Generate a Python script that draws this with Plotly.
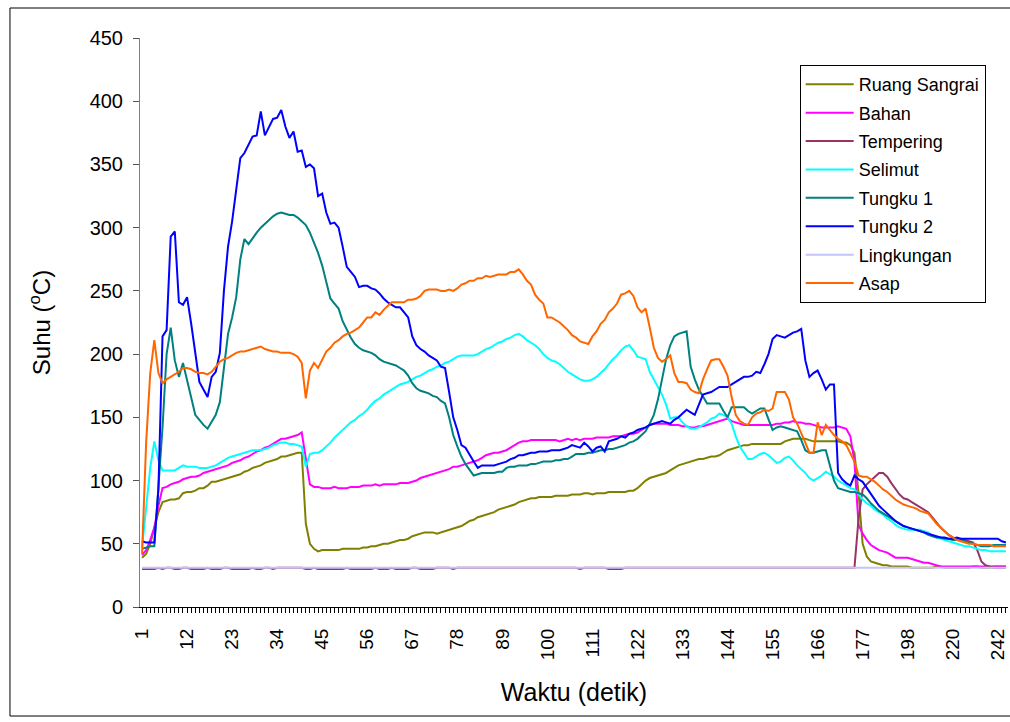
import plotly.graph_objects as go

# Time axis (seconds): every second up to 178, then every 2 seconds
waktu = list(range(1, 179)) + list(range(180, 247, 2))
tick_label_waktu = [1, 12, 23, 34, 45, 56, 67, 78, 89, 100, 111, 122, 133, 144,
                    155, 166, 177, 198, 220, 242]

ruang_sangrai = [
    39, 42, 50, 62, 75, 83, 84, 85, 85, 86,
    90, 91, 91, 92, 94, 94, 96, 99, 99, 100,
    101, 102, 103, 104, 105, 107, 108, 110, 111, 112,
    114, 115, 116, 117, 119, 119, 120, 121, 122, 122,
    66, 50, 46, 44, 45, 45, 45, 45, 45, 46,
    46, 46, 46, 46, 47, 47, 48, 48, 49, 50,
    50, 51, 52, 53, 53, 54, 56, 57, 58, 59,
    59, 59, 58, 59, 60, 61, 62, 63, 64, 66,
    68, 69, 71, 72, 73, 74, 75, 77, 78, 79,
    80, 81, 83, 84, 85, 86, 86, 87, 87, 87,
    87, 88, 88, 88, 88, 89, 89, 89, 90, 90,
    89, 90, 90, 90, 91, 91, 91, 91, 91, 92,
    92, 94, 97, 100, 102, 103, 104, 105, 106, 108,
    110, 112, 113, 114, 115, 116, 117, 117, 118, 119,
    119, 120, 122, 124, 125, 126, 127, 128, 128, 129,
    129, 129, 129, 129, 129, 129, 129, 131, 132, 133,
    133, 133, 133, 132, 131, 131, 131, 131, 131, 131,
    131, 130, 130, 128, 122, 90, 50, 40, 36, 35,
    34, 33, 33, 32, 32, 32, 32, 32, 31, 31,
    31, 31, 31, 31, 32, 32, 31, 31, 31, 31,
    31, 31, 31, 32, 32, 31, 31, 31, 32, 32,
    32, 32,
]

bahan = [
    41, 45, 53, 63, 80, 94, 95, 97, 98, 99,
    101, 102, 103, 103, 104, 106, 107, 108, 109, 110,
    111, 112, 114, 115, 116, 118, 119, 121, 123, 124,
    126, 127, 129, 131, 133, 133, 134, 135, 136, 138,
    118, 97, 95, 95, 94, 94, 94, 95, 94, 94,
    94, 95, 95, 95, 96, 96, 96, 97, 96, 97,
    97, 97, 97, 98, 98, 98, 99, 100, 102, 103,
    104, 105, 106, 107, 108, 109, 111, 111, 112, 113,
    114, 115, 116, 118, 120, 121, 122, 122, 123, 124,
    126, 128, 130, 131, 131, 132, 132, 132, 132, 132,
    132, 132, 131, 132, 133, 132, 133, 132, 133, 133,
    133, 134, 134, 134, 134, 135, 135, 135, 136, 137,
    137, 138, 140, 142, 144, 145, 145, 145, 145, 144,
    144, 144, 143, 143, 142, 142, 143, 143, 144, 145,
    146, 147, 148, 149, 147, 146, 145, 144, 144, 144,
    144, 144, 144, 144, 144, 145, 145, 146, 146, 147,
    146, 146, 145, 145, 144, 143, 142, 142, 142, 142,
    143, 142, 141, 135, 115, 65, 58, 53, 49, 47,
    45, 44, 43, 41, 39, 39, 39, 39, 38, 37,
    36, 35, 35, 34, 33, 32, 32, 32, 32, 32,
    32, 32, 32, 32, 32, 32, 32, 32, 32, 32,
    32, 32,
]

tempering = [
    30, 30, 30, 30, 31, 30, 31, 31, 30, 30,
    31, 31, 30, 30, 30, 30, 31, 30, 30, 30,
    31, 31, 30, 30, 30, 30, 30, 31, 30, 30,
    31, 31, 30, 31, 31, 31, 31, 31, 31, 31,
    30, 30, 31, 30, 30, 30, 30, 30, 30, 30,
    31, 30, 30, 30, 30, 30, 30, 31, 30, 30,
    30, 31, 30, 30, 30, 30, 31, 31, 30, 30,
    30, 30, 31, 31, 31, 31, 30, 31, 31, 31,
    31, 31, 31, 31, 31, 31, 31, 31, 31, 31,
    31, 31, 31, 31, 31, 31, 31, 31, 31, 31,
    31, 31, 31, 31, 31, 31, 31, 30, 31, 31,
    31, 31, 31, 31, 30, 30, 30, 30, 31, 31,
    31, 31, 31, 31, 31, 31, 31, 31, 31, 31,
    31, 31, 31, 31, 31, 31, 31, 31, 31, 31,
    31, 31, 31, 31, 31, 31, 31, 31, 31, 31,
    31, 31, 31, 31, 31, 31, 31, 31, 31, 31,
    31, 31, 31, 31, 31, 31, 31, 31, 31, 31,
    31, 31, 31, 31, 31, 70, 93, 97, 100, 103,
    106, 106, 103, 98, 93, 89, 86, 85, 83, 81,
    79, 77, 75, 71, 67, 63, 60, 57, 55, 54,
    53, 53, 52, 51, 45, 36, 33, 32, 31, 31,
    31, 31,
]

selimut = [
    47, 80, 110, 131, 116, 108, 108, 108, 108, 110,
    112, 111, 111, 111, 110, 110, 110, 111, 112, 114,
    116, 118, 119, 120, 121, 122, 123, 124, 124, 124,
    125, 126, 128, 129, 130, 130, 129, 129, 128, 127,
    111, 121, 122, 122, 124, 127, 130, 134, 137, 140,
    143, 146, 148, 151, 153, 156, 160, 163, 165, 168,
    170, 172, 174, 176, 177, 178, 180, 182, 183, 185,
    187, 188, 190, 191, 193, 194, 196, 198, 199, 199,
    199, 199, 200, 202, 204, 205, 207, 209, 210, 212,
    213, 215, 216, 214, 211, 209, 207, 204, 200, 197,
    195, 194, 192, 189, 186, 184, 182, 180, 179, 179,
    180, 182, 185, 188, 192, 196, 199, 203, 206, 207,
    203, 198, 197, 196, 186, 180, 174, 168, 160, 149,
    150, 150, 146, 143, 141, 141, 142, 144, 146, 149,
    150, 153, 152, 150, 145, 135, 127, 122, 117, 117,
    119, 121, 122, 120, 117, 114, 115, 118, 119, 116,
    112, 109, 106, 102, 100, 102, 104, 107, 105, 103,
    100, 98, 96, 94, 93, 89, 85, 82, 80, 77,
    75, 73, 70, 68, 65, 63, 62, 61, 61, 61,
    61, 60, 59, 56, 55, 54, 53, 52, 51, 50,
    49, 48, 48, 47, 46, 45, 45, 44, 44, 44,
    44, 44,
]

tungku_1 = [
    46, 47, 48, 48, 93, 142, 200, 221, 195, 182,
    193, 180, 165, 152, 148, 144, 141, 147, 152, 162,
    190, 216, 229, 245, 275, 291, 287, 292, 296, 300,
    303, 306, 309, 311, 312, 311, 310, 310, 308, 305,
    302, 296, 288, 280, 270, 256, 244, 240, 236, 226,
    219, 213, 208, 205, 203, 202, 201, 199, 196, 194,
    193, 192, 191, 189, 187, 183, 177, 173, 171, 170,
    169, 167, 166, 163, 161, 150, 136, 127, 119, 113,
    108, 104, 105, 106, 106, 106, 106, 107, 107, 110,
    111, 111, 112, 112, 112, 113, 113, 114, 115, 115,
    115, 116, 116, 117, 117, 119, 121, 121, 121, 122,
    122, 123, 124, 124, 125, 125, 126, 127, 128, 130,
    131, 133, 136, 139, 145, 152, 164, 180, 196, 207,
    214, 216, 217, 218, 190, 180, 172, 166, 161, 161,
    161, 161, 155, 150, 158, 158, 158, 158, 155, 153,
    155, 157, 157, 148, 140, 142, 143, 142, 141, 140,
    139, 132, 124, 122, 122, 123, 124, 124, 111, 100,
    94, 93, 92, 91, 91, 90, 89, 86, 82, 79,
    76, 74, 72, 70, 68, 66, 64, 63, 62, 61,
    60, 59, 57, 56, 55, 55, 54, 54, 53, 53,
    53, 52, 51, 50, 49, 48, 48, 48, 49, 49,
    49, 49,
]

tungku_2 = [
    52, 51, 51, 51, 93, 214, 219, 293, 297, 241,
    239, 245, 224, 200, 178, 172, 166, 182, 186, 201,
    250, 285, 305, 330, 355, 359, 365, 372, 373, 392,
    373, 380, 386, 387, 393, 380, 371, 376, 360, 361,
    348, 350, 347, 325, 327, 312, 303, 304, 300, 285,
    269, 265, 261, 253, 254, 254, 252, 251, 248, 244,
    241, 239, 237, 237, 233, 229, 214, 207, 204, 202,
    199, 197, 195, 190, 189, 170, 150, 140, 128, 126,
    120, 115, 110, 112, 112, 112, 112, 113, 114, 115,
    117, 118, 120, 120, 121, 122, 122, 123, 123, 123,
    124, 124, 124, 125, 126, 128, 127, 126, 130, 127,
    123, 126, 127, 123, 131, 132, 133, 135, 134, 137,
    138, 140, 141, 142, 144, 145, 146, 147, 146, 145,
    148, 150, 153, 156, 154, 152, 160, 168, 169, 170,
    172, 174, 174, 174, 176, 178, 180, 182, 182, 183,
    186, 185, 192, 200, 212, 215, 214, 213, 215, 217,
    218, 220, 195, 182, 185, 187, 180, 172, 176, 176,
    106, 101, 98, 96, 104, 101, 99, 94, 89, 85,
    80, 77, 74, 71, 68, 66, 64, 63, 62, 61,
    60, 59, 58, 57, 56, 55, 55, 54, 54, 55,
    54, 54, 54, 54, 54, 54, 54, 54, 54, 54,
    52, 51,
]

lingkungan = [
    31, 31, 31, 31, 31, 31, 31, 31, 31, 31,
    31, 31, 31, 31, 31, 31, 31, 31, 31, 31,
    31, 31, 31, 31, 31, 31, 31, 31, 31, 31,
    31, 31, 31, 31, 31, 31, 31, 31, 31, 31,
    31, 31, 31, 31, 31, 31, 31, 31, 31, 31,
    31, 31, 31, 31, 31, 31, 31, 31, 31, 31,
    31, 31, 31, 31, 31, 31, 31, 31, 31, 31,
    31, 31, 31, 31, 31, 31, 31, 31, 31, 31,
    31, 31, 31, 31, 31, 31, 31, 31, 31, 31,
    31, 31, 31, 31, 31, 31, 31, 31, 31, 31,
    31, 31, 31, 31, 31, 31, 31, 31, 31, 31,
    31, 31, 31, 31, 31, 31, 31, 31, 31, 31,
    31, 31, 31, 31, 31, 31, 31, 31, 31, 31,
    31, 31, 31, 31, 31, 31, 31, 31, 31, 31,
    31, 31, 31, 31, 31, 31, 31, 31, 31, 31,
    31, 31, 31, 31, 31, 31, 31, 31, 31, 31,
    31, 31, 31, 31, 31, 31, 31, 31, 31, 31,
    31, 31, 31, 31, 31, 31, 31, 31, 31, 31,
    31, 31, 31, 31, 31, 31, 31, 31, 31, 31,
    31, 31, 31, 31, 31, 31, 31, 31, 31, 31,
    31, 31, 31, 31, 31, 31, 31, 31, 31, 31,
    31, 31,
]

asap = [
    42, 130, 185, 211, 185, 177, 180, 182, 184, 186,
    189, 189, 188, 186, 185, 185, 184, 186, 190, 194,
    196, 197, 199, 201, 202, 202, 203, 204, 205, 206,
    204, 203, 202, 202, 201, 201, 201, 200, 198, 193,
    165, 187, 193, 189, 196, 202, 205, 209, 211, 214,
    216, 217, 219, 221, 225, 229, 229, 233, 231, 235,
    238, 241, 241, 241, 241, 243, 243, 244, 246, 250,
    251, 251, 251, 250, 250, 251, 250, 252, 255, 256,
    258, 258, 260, 260, 262, 261, 262, 263, 263, 263,
    265, 265, 267, 263, 258, 255, 247, 243, 240, 229,
    229, 227, 225, 222, 219, 215, 213, 210, 209, 208,
    214, 218, 224, 227, 233, 236, 240, 247, 248, 250,
    246, 237, 233, 236, 221, 205, 197, 194, 196, 199,
    185, 178, 178, 177, 172, 170, 169, 180, 188, 195,
    196, 196, 190, 183, 166, 152, 147, 145, 144, 150,
    153, 154, 156, 155, 157, 170, 170, 170, 164, 150,
    145, 138, 130, 122, 122, 146, 136, 144, 140, 136,
    133, 131, 128, 122, 115, 104, 103, 103, 101, 99,
    96, 93, 91, 88, 85, 83, 81, 80, 79, 78,
    76, 75, 74, 70, 66, 63, 60, 57, 55, 53,
    52, 51, 50, 50, 49, 49, 49, 49, 48, 48,
    48, 48,
]

series = [
    ("Ruang Sangrai", ruang_sangrai, "#808000"),
    ("Bahan", bahan, "#FF00FF"),
    ("Tempering", tempering, "#993366"),
    ("Selimut", selimut, "#00FFFF"),
    ("Tungku 1", tungku_1, "#008080"),
    ("Tungku 2", tungku_2, "#0000FF"),
    ("Lingkungan", lingkungan, "#C4C4F8"),
    ("Asap", asap, "#FF6600"),
]

FONT = "Arial, 'Liberation Sans', sans-serif"
x_cat = [str(t) for t in waktu]
label_set = set(tick_label_waktu)
tick_text = [str(t) if t in label_set else "" for t in waktu]

fig = go.Figure()
for name, values, color in series:
    fig.add_trace(go.Scatter(
        x=x_cat, y=values, name=name, mode="lines",
        legendgroup=name,
        line=dict(color=color, width=2),
    ))

fig.update_layout(
    width=1010, height=722,
    margin=dict(l=140, r=2, t=38, b=115),
    paper_bgcolor="white", plot_bgcolor="white",
    font=dict(family=FONT, color="black"),
    legend=dict(
        x=0.760, y=0.9525, xanchor="left", yanchor="top",
        bordercolor="black", borderwidth=1, bgcolor="white",
        font=dict(size=18), tracegroupgap=2, itemwidth=48,
        traceorder="grouped",
    ),
    xaxis=dict(
        type="category", tickmode="array", tickvals=x_cat, ticktext=tick_text,
        tickangle=-90, ticks="outside", ticklen=5, tickcolor="black",
        ticklabelstandoff=8,
        showline=True, linecolor="black", linewidth=1,
        showgrid=False, zeroline=False, range=[-0.5, len(waktu) - 0.5],
        tickfont=dict(size=19),
        title=dict(text="Waktu (detik)", font=dict(size=25), standoff=24),
    ),
    yaxis=dict(
        range=[0, 450], dtick=50, ticks="outside", ticklen=6,
        tickcolor="#555555", showline=True, linecolor="#808080", linewidth=1,
        ticklabelstandoff=6,
        showgrid=False, zeroline=False, tickfont=dict(size=20),
        title=dict(text="Suhu (<sup>o</sup>C)", font=dict(size=24), standoff=32),
    ),
    shapes=[dict(
        type="rect", xref="paper", yref="paper",
        x0=-0.1498, x1=1.01, y0=-0.1916, y1=1.0527,
        line=dict(color="black", width=1), fillcolor="rgba(0,0,0,0)",
        layer="below",
    )],
)

fig.write_html("out.html")
